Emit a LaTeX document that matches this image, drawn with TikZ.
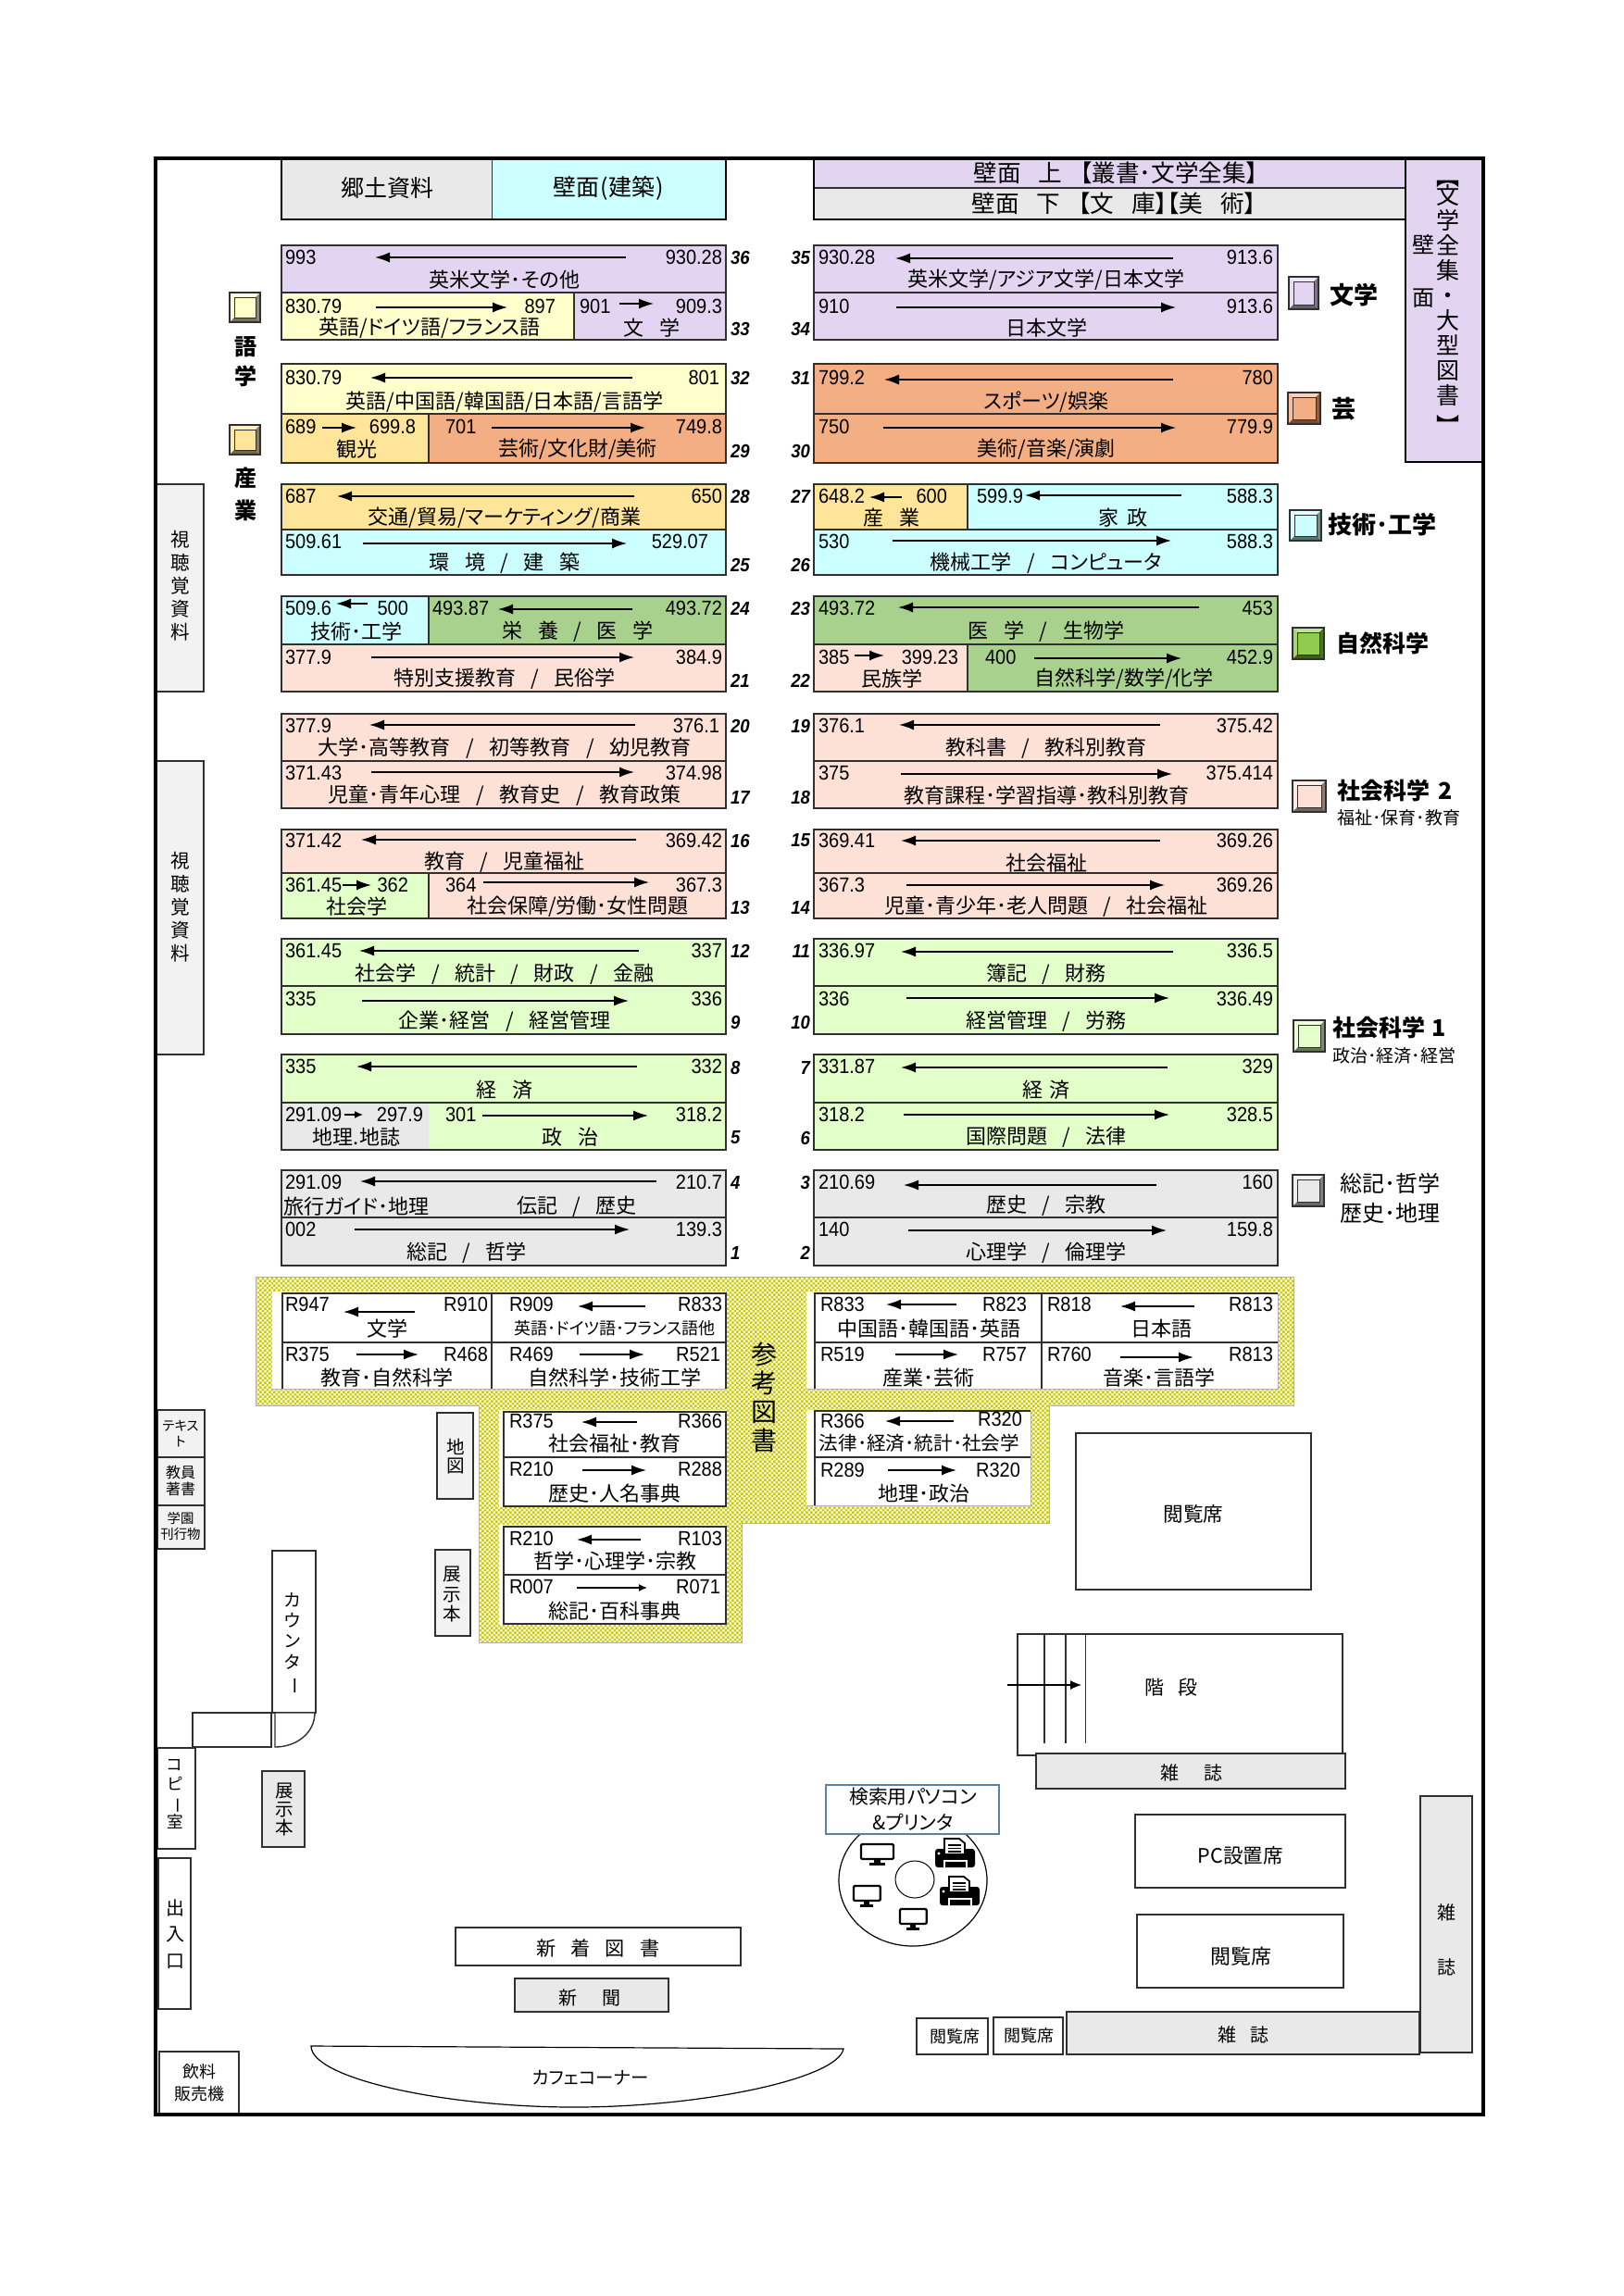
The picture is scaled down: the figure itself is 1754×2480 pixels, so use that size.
\documentclass[tikz,border=0pt]{standalone}
\usepackage{fontspec}
\usepackage{graphicx}
\usetikzlibrary{arrows.meta,patterns}
\newfontfamily\cjk[RawFeature=+palt]{Noto Sans CJK JP}
\newfontfamily\lat[FakeStretch=.91]{Liberation Sans}
\definecolor{lav}{HTML}{E3D5F2}
\definecolor{yel}{HTML}{FFFFCC}
\definecolor{sal}{HTML}{F4AE84}
\definecolor{gold}{HTML}{FFE599}
\definecolor{cya}{HTML}{CCFFFF}
\definecolor{grn}{HTML}{A9D18E}
\definecolor{lime2}{HTML}{8FCC4E}
\definecolor{pnk}{HTML}{FDE1D6}
\definecolor{lgr}{HTML}{E3FFC9}
\definecolor{gry}{HTML}{E9E9E9}
\definecolor{side}{HTML}{F2F2F2}
\definecolor{ck}{HTML}{CCCC00}
\definecolor{edge}{HTML}{303030}
\definecolor{bluee}{HTML}{5B7FA5}
\newcommand\cf[1]{\cjk\fontsize{#1}{#1}\selectfont\spaceskip=.75em\relax}
\newcounter{nd}
\pgfdeclarepatternformonly{chk}{\pgfqpoint{-.1pt}{-.1pt}}{\pgfqpoint{2.6pt}{2.6pt}}{\pgfqpoint{2.5pt}{2.5pt}}{%
 \pgfpathrectangle{\pgfpointorigin}{\pgfqpoint{1.25pt}{1.25pt}}%
 \pgfpathrectangle{\pgfqpoint{1.25pt}{1.25pt}}{\pgfqpoint{1.25pt}{1.25pt}}\pgfusepath{fill}}
\tikzset{
 txt/.style={inner sep=0pt,outer sep=0pt,font=\cf{11},align=center},
 numtxt/.style={inner sep=0pt,outer sep=0pt,font=\lat\fontsize{11}{12}\selectfont},
 rownum/.style={inner sep=0pt,outer sep=0pt,font=\lat\bfseries\itshape\fontsize{10.2}{11}\selectfont},
 shelfbox/.style={draw=edge,line width=.9pt},
 boxline/.style={draw=edge,line width=.7pt},
 arr/.style={line width=.7pt,-{Latex[length=8pt,width=5.5pt]}},
 arrs/.style={line width=.6pt,-{Latex[length=4.5pt,width=4pt]}},
}
\newcommand\TX[4][]{\stepcounter{nd}\node[txt,#1] (n\arabic{nd}) at (#2,#3) {#4};}
\newcommand\NL[3]{\stepcounter{nd}\node[numtxt,anchor=west] (n\arabic{nd}) at (#1,#2) {#3};}
\newcommand\NR[3]{\stepcounter{nd}\node[numtxt,anchor=east] (n\arabic{nd}) at (#1,#2) {#3};}
\newcommand\RL[2]{\stepcounter{nd}\node[rownum,anchor=west] (n\arabic{nd}) at (789,#1) {#2};}
\newcommand\RR[2]{\stepcounter{nd}\node[rownum,anchor=east] (n\arabic{nd}) at (875,#1) {#2};}
\newcommand\AR[3]{\draw[arr] (#1,#3) -- (#2,#3);}
\newcommand\ARS[3]{\draw[arrs] (#1,#3) -- (#2,#3);}
\newcommand\SH[5]{\draw[shelfbox,fill=#5] (#1,#2) rectangle (#3,#4);}
\newcommand\BX[5]{\draw[boxline,fill=#5] (#1,#2) rectangle (#3,#4);}
\newcommand\VT[5]{\stepcounter{nd}\node[txt,font={\cjk\fontsize{#3}{#4}\selectfont}] (n\arabic{nd}) at (#1,#2) {#5};}
\newcommand\vlong{\rotatebox[origin=c]{-90}{ー}}
\newcommand\BV[5]{% x1 y1 x2 y2 colour
 \begin{scope}
 \fill[#5] (#1,#2) rectangle (#3,#4);
 \fill[#5!55!white] (#1,#2) -- (#3,#2) -- ([shift={(-5,5)}]#3,#2) -- ([shift={(5,5)}]#1,#2) -- cycle;
 \fill[#5!80!white] (#1,#2) -- (#1,#4) -- ([shift={(5,-5)}]#1,#4) -- ([shift={(5,5)}]#1,#2) -- cycle;
 \fill[#5!55!black] (#3,#2) -- (#3,#4) -- ([shift={(-5,-5)}]#3,#4) -- ([shift={(-5,5)}]#3,#2) -- cycle;
 \fill[#5!45!black] (#1,#4) -- (#3,#4) -- ([shift={(-5,-5)}]#3,#4) -- ([shift={(5,-5)}]#1,#4) -- cycle;
 \draw[edge,line width=.7pt] (#1,#2) rectangle (#3,#4);
 \draw[edge,line width=.4pt] ([shift={(5,5)}]#1,#2) rectangle ([shift={(-5,-5)}]#3,#4);
 \end{scope}}
\newcommand\MON[3]{\begin{scope}[shift={(#1,#2)},xscale=#3]
 \draw[black,line width=1.1pt,rounded corners=.6pt] (0,0) rectangle (35,16);
 \fill[black] (14,16) rectangle (21,20);
 \fill[black] (9,20) rectangle (26,23);
 \end{scope}}
\newcommand\PRN[2]{\begin{scope}[shift={(#1,#2)}]
 \fill[black,rounded corners=1.5pt] (0,12) rectangle (43,32);
 \draw[black,fill=white,line width=.9pt] (10,1) -- (26,1) -- (32,6) -- (32,18) -- (10,18) -- cycle;
 \fill[black] (14,7) rectangle (28,8.5);
 \fill[black] (14,10.5) rectangle (28,12);
 \fill[black] (14,14) rectangle (28,15.5);
 \fill[white] (9,24) rectangle (35,32);
 \fill[black] (11,26) rectangle (33,32);
 \fill[white] (4,17) circle (1.6);
 \end{scope}}
\begin{document}
\begin{tikzpicture}[x=.5pt,y=-.5pt]
\useasboundingbox (0,0) rectangle (1754,2480);
\fill[white] (0,0) rectangle (1754,2480);

% top shelves
\fill[gry] (304,171) rectangle (531,237);
\fill[cya] (531,171) rectangle (784,237);
\draw[edge,line width=.5pt] (531,171) -- (531,237);
\draw[black,line width=1.1pt] (304,171) -- (304,237) -- (784,237) -- (784,171);
\TX[font=\cf{12.5}]{418}{203}{郷土資料}
\TX[font=\cf{12.5}]{657}{203}{壁面\kern.6pt(建築\kern.6pt)}
\fill[lav] (879,171) rectangle (1518,203);
\fill[gry] (879,203) rectangle (1518,237);
\draw[edge,line width=.8pt] (879,203) -- (1518,203);
\draw[black,line width=1.3pt] (879,171) -- (879,237) -- (1518,237);
\TX[font=\cf{12.8}]{1205}{187}{壁面 上 【叢書･文学全集】}
\TX[font=\cf{12.8}]{1203}{220}{壁面 下 【文 庫】【美 術】}
\fill[lav] (1518,171) rectangle (1602,499);
\draw[black,line width=1.3pt] (1518,171) -- (1518,499) -- (1602,499);
\VT{1564}{327}{12.5}{13.5}{\rotatebox[origin=c]{-90}{【}\\[-6pt]文\\学\\全\\集\\・\\大\\型\\図\\書\\\rotatebox[origin=c]{-90}{】}}
\VT{1537}{293}{12}{28.5}{壁\\面}

% left column
\SH{304}{265}{784}{316}{lav}
\SH{304}{316}{620}{367}{yel}
\SH{620}{316}{784}{367}{lav}
\NL{308}{278}{993}\NR{780}{278}{930.28}\AR{676}{405}{278}\TX{545}{302}{英米文学･その他}
\NL{308}{331}{830.79}\NR{600}{331}{897}\AR{406}{548}{332}\TX{464}{354}{英語/ドイツ語/フランス語}
\NL{626}{331}{901}\NR{780}{331}{909.3}\AR{669}{706}{328}\TX{704}{354}{文 学}
\RL{278}{36}\RL{355}{33}

\SH{304}{393}{784}{447}{yel}
\SH{304}{447}{463}{500}{gold}
\SH{463}{447}{784}{500}{sal}
\NL{308}{408}{830.79}\NR{777}{408}{801}\AR{683}{400}{408}\TX{545}{434}{英語/中国語/韓国語/日本語/言語学}
\NL{308}{461}{689}\NR{449}{461}{699.8}\AR{348}{385}{462}\TX{385}{485}{観光}
\NL{481}{461}{701}\NR{780}{461}{749.8}\AR{531}{697}{462}\TX{624}{485}{芸術/文化財/美術}
\RL{408}{32}\RL{487}{29}

\SH{304}{523}{784}{572}{gold}
\SH{304}{572}{784}{621}{cya}
\NL{308}{536}{687}\NR{780}{536}{650}\AR{685}{364}{536}\TX{545}{559}{交通/貿易/マーケティング/商業}
\NL{308}{585}{509.61}\NR{765}{585}{529.07}\AR{392}{677}{587}\TX{545}{608}{環 境 / 建 築}
\RL{536}{28}\RL{610}{25}

\SH{304}{644}{463}{696}{cya}
\SH{463}{644}{784}{696}{grn}
\SH{304}{696}{784}{747}{pnk}
\NL{308}{657}{509.6}\NR{441}{657}{500}\AR{397}{363}{652}\TX{385}{682}{技術･工学}
\NL{467}{657}{493.87}\NR{780}{657}{493.72}\AR{683}{538}{658}\TX{624}{682}{栄 養 / 医 学}
\NL{308}{710}{377.9}\NR{780}{710}{384.9}\AR{401}{685}{710}\TX{545}{733}{特別支援教育 / 民俗学}
\RL{657}{24}\RL{735}{21}

\SH{304}{771}{784}{822}{pnk}
\SH{304}{822}{784}{873}{pnk}
\NL{308}{784}{377.9}\NR{777}{784}{376.1}\AR{686}{399}{783}\TX{545}{808}{大学･高等教育 / 初等教育 / 幼児教育}
\NL{308}{835}{371.43}\NR{780}{835}{374.98}\AR{401}{685}{834}\TX{545}{859}{児童･青年心理 / 教育史 / 教育政策}
\RL{784}{20}\RL{861}{17}

\SH{304}{896}{784}{943}{pnk}
\SH{304}{943}{463}{992}{lgr}
\SH{463}{943}{784}{992}{pnk}
\NL{308}{908}{371.42}\NR{780}{908}{369.42}\AR{687}{390}{907}\TX{545}{931}{教育 / 児童福祉}
\NL{308}{956}{361.45}\NR{441}{956}{362}\AR{370}{401}{956}\TX{385}{979}{社会学}
\NL{481}{956}{364}\NR{780}{956}{367.3}\AR{522}{701}{953}\TX{624}{979}{社会保障/労働･女性問題}
\RL{908}{16}\RL{980}{13}

\SH{304}{1014}{784}{1065}{lgr}
\SH{304}{1065}{784}{1117}{lgr}
\NL{308}{1027}{361.45}\NR{780}{1027}{337}\AR{690}{388}{1027}\TX{545}{1052}{社会学 / 統計 / 財政 / 金融}
\NL{308}{1079}{335}\NR{780}{1079}{336}\AR{391}{679}{1081}\TX{545}{1103}{企業･経営 / 経営管理}
\RL{1027}{12}\RL{1104}{9}

\fill[lgr] (304,1139) rectangle (784,1242);
\fill[gry] (304,1191) rectangle (463,1242);
\draw[shelfbox] (304,1139) rectangle (784,1242);
\draw[shelfbox] (304,1191) -- (784,1191);
\NL{308}{1152}{335}\NR{780}{1152}{332}\AR{688}{385}{1152}\TX{545}{1177}{経 済}
\NL{308}{1204}{291.09}\NR{457}{1204}{297.9}\ARS{372}{392}{1204}\TX{385}{1228}{地理.地誌}
\NL{481}{1204}{301}\NR{780}{1204}{318.2}\AR{521}{700}{1205}\TX{616}{1228}{政 治}
\RL{1153}{8}\RL{1229}{5}

\SH{304}{1264}{784}{1315}{gry}
\SH{304}{1315}{784}{1367}{gry}
\NL{308}{1277}{291.09}\NR{780}{1277}{210.7}\AR{709}{389}{1276}\TX{385}{1303}{旅行ガイド･地理}\TX{623}{1303}{伝記 / 歴史}
\NL{308}{1328}{002}\NR{780}{1328}{139.3}\AR{383}{680}{1328}\TX{504}{1353}{総記 / 哲学}
\RL{1277}{4}\RL{1353}{1}

% right column
\SH{879}{265}{1380}{316}{lav}
\SH{879}{316}{1380}{367}{lav}
\NL{884}{278}{930.28}\NR{1375}{278}{913.6}\AR{1267}{967}{279}\TX{1130}{302}{英米文学/アジア文学/日本文学}
\NL{884}{331}{910}\NR{1375}{331}{913.6}\AR{968}{1270}{332}\TX{1130}{354}{日本文学}
\RR{278}{35}\RR{355}{34}

\SH{879}{393}{1380}{447}{sal}
\SH{879}{447}{1380}{500}{sal}
\NL{884}{408}{799.2}\NR{1375}{408}{780}\AR{1267}{955}{410}\TX{1130}{434}{スポーツ/娯楽}
\NL{884}{461}{750}\NR{1375}{461}{779.9}\AR{954}{1270}{462}\TX{1130}{485}{美術/音楽/演劇}
\RR{408}{31}\RR{487}{30}

\SH{879}{523}{1045}{572}{gold}
\SH{1045}{523}{1380}{572}{cya}
\SH{879}{572}{1380}{621}{cya}
\NL{884}{536}{648.2}\NR{1023}{536}{600}\AR{974}{939}{537}\TX{963}{559}{産 業}
\NL{1055}{536}{599.9}\NR{1375}{536}{588.3}\AR{1276}{1107}{535}\TX{1213}{559}{家\hskip.45em 政}
\NL{884}{585}{530}\NR{1375}{585}{588.3}\AR{964}{1265}{584}\TX{1130}{608}{機械工学 / コンピュータ}
\RR{536}{27}\RR{610}{26}

\SH{879}{644}{1380}{696}{grn}
\SH{879}{696}{1045}{747}{pnk}
\SH{1045}{696}{1380}{747}{grn}
\NL{884}{657}{493.72}\NR{1375}{657}{453}\AR{1295}{970}{656}\TX{1130}{682}{医 学 / 生物学}
\NL{884}{710}{385}\NR{1035}{710}{399.23}\AR{923}{955}{708}\TX{963}{733}{民族学}
\NL{1064}{710}{400}\NR{1375}{710}{452.9}\AR{1117}{1276}{711}\TX{1214}{733}{自然科学/数学/化学}
\RR{657}{23}\RR{735}{22}

\SH{879}{771}{1380}{822}{pnk}
\SH{879}{822}{1380}{873}{pnk}
\NL{884}{784}{376.1}\NR{1375}{784}{375.42}\AR{1253}{971}{783}\TX{1130}{808}{教科書 / 教科別教育}
\NL{884}{835}{375}\NR{1375}{835}{375.414}\AR{973}{1266}{836}\TX{1130}{859}{教育課程･学習指導･教科別教育}
\RR{784}{19}\RR{861}{18}

\SH{879}{896}{1380}{943}{pnk}
\SH{879}{943}{1380}{992}{pnk}
\NL{884}{908}{369.41}\NR{1375}{908}{369.26}\AR{1253}{973}{908}\TX{1130}{932}{社会福祉}
\NL{884}{956}{367.3}\NR{1375}{956}{369.26}\AR{979}{1258}{956}\TX{1130}{979}{児童･青少年･老人問題 / 社会福祉}
\RR{908}{15}\RR{980}{14}

\SH{879}{1014}{1380}{1065}{lgr}
\SH{879}{1065}{1380}{1117}{lgr}
\NL{884}{1027}{336.97}\NR{1375}{1027}{336.5}\AR{1267}{973}{1028}\TX{1130}{1052}{簿記 / 財務}
\NL{884}{1079}{336}\NR{1375}{1079}{336.49}\AR{979}{1263}{1078}\TX{1130}{1103}{経営管理 / 労務}
\RR{1027}{11}\RR{1104}{10}

\SH{879}{1139}{1380}{1191}{lgr}
\SH{879}{1191}{1380}{1242}{lgr}
\NL{884}{1152}{331.87}\NR{1375}{1152}{329}\AR{1261}{973}{1153}\TX{1130}{1177}{経\hskip.3em 済}
\NL{884}{1204}{318.2}\NR{1375}{1204}{328.5}\AR{976}{1263}{1204}\TX{1130}{1228}{国際問題 / 法律}
\RR{1153}{7}\RR{1229}{6}

\SH{879}{1264}{1380}{1315}{gry}
\SH{879}{1315}{1380}{1367}{gry}
\NL{884}{1277}{210.69}\NR{1375}{1277}{160}\AR{1249}{976}{1280}\TX{1130}{1302}{歴史 / 宗教}
\NL{884}{1328}{140}\NR{1375}{1328}{159.8}\AR{981}{1260}{1329}\TX{1130}{1353}{心理学 / 倫理学}
\RR{1277}{3}\RR{1353}{2}

% legends
\BV{248}{316}{281}{348}{yel}
\BV{248}{459}{281}{491}{gold}
\VT{265}{391}{12}{16}{\bfseries 語\\\bfseries 学}
\VT{265}{534}{12}{17.5}{\bfseries 産\\\bfseries 業}
\BV{1392}{299}{1424}{334}{lav}
\TX[font=\cf{13}\bfseries]{1462}{319}{文学}
\BV{1391}{424}{1426}{458}{sal}
\TX[font=\cf{13}\bfseries]{1451}{442}{芸}
\BV{1393}{551}{1427}{584}{cya}
\TX[font=\cf{13}\bfseries]{1493}{567}{技術･工学}
\BV{1396}{678}{1430}{712}{lime2}
\TX[font=\cf{12.5}\bfseries]{1493}{695}{自然科学}
\BV{1396}{843}{1432}{877}{pnk}
\TX[font=\cf{12.5}\bfseries,anchor=west]{1444}{854}{社会科学\hskip.4em 2}
\TX[font=\cf{9.5},anchor=west]{1444}{883}{福祉･保育･教育}
\BV{1397}{1102}{1431}{1136}{lgr}
\TX[font=\cf{12.5}\bfseries,anchor=west]{1439}{1110}{社会科学\hskip.3em 1}
\TX[font=\cf{9.5},anchor=west]{1439}{1140}{政治･経済･経営}
\BV{1396}{1269}{1430}{1303}{gry}
\TX[font=\cf{12}]{1501}{1278}{総記･哲学}
\TX[font=\cf{12}]{1501}{1310}{歴史･地理}

% side audio-visual shelves
\BX{168}{523}{220}{747}{side}
\VT{195}{633}{10.3}{12.5}{視\\聴\\覚\\資\\料}
\BX{168}{822}{220}{1139}{side}
\VT{195}{980}{10.3}{12.5}{視\\聴\\覚\\資\\料}

% reference area
\fill[white] (276,1379) -- (1397,1379) -- (1397,1518) -- (1133,1518) -- (1133,1645) -- (801,1645) -- (801,1774) -- (517,1774) -- (517,1518) -- (276,1518) -- cycle;
\fill[pattern=chk,pattern color=ck] (276,1379) -- (1397,1379) -- (1397,1518) -- (1133,1518) -- (1133,1645) -- (801,1645) -- (801,1774) -- (517,1774) -- (517,1518) -- (276,1518) -- cycle;
\draw[gray!60,line width=.5pt] (276,1379) -- (1397,1379) -- (1397,1518) -- (1133,1518) -- (1133,1645) -- (801,1645) -- (801,1774) -- (517,1774) -- (517,1518) -- (276,1518) -- cycle;
\fill[white] (294,1395) rectangle (784,1500);
\fill[white] (871,1395) rectangle (1380,1500);
\fill[white] (539,1523) rectangle (784,1628);
\fill[white] (871,1523) rectangle (1113,1627);
\fill[white] (539,1647) rectangle (784,1755);
% A
\draw[edge,line width=.9pt] (305,1500) -- (305,1397) -- (784,1397) -- (784,1500);
\draw[edge,line width=.8pt] (305,1450) -- (784,1450);
\draw[edge,line width=.8pt] (531,1397) -- (531,1500);
\draw[gray!60,line width=.5pt] (294,1500) -- (784,1500);
\NL{308}{1409}{R947}\NR{527}{1409}{R910}\AR{448}{371}{1417}\TX{418}{1435}{文学}
\NL{308}{1463}{R375}\NR{527}{1463}{R468}\AR{385}{452}{1463}\TX{418}{1488}{教育･自然科学}
\NL{550}{1409}{R909}\NR{780}{1409}{R833}\AR{697}{624}{1411}\TX[font=\cf{9}]{664}{1435}{英語･ドイツ語･フランス語他}
\NL{550}{1463}{R469}\NR{778}{1463}{R521}\AR{626}{696}{1463}\TX{664}{1488}{自然科学･技術工学}
% B
\draw[edge,line width=.9pt] (880,1500) -- (880,1397) -- (1380,1397);
\draw[edge,line width=.8pt] (880,1450) -- (1380,1450);
\draw[edge,line width=1pt] (1125,1397) -- (1125,1500);
\draw[gray!60,line width=.5pt] (871,1500) -- (1380,1500) -- (1380,1397);
\NL{886}{1409}{R833}\NR{1109}{1409}{R823}\AR{1033}{957}{1409}\TX{1003}{1435}{中国語･韓国語･英語}
\NL{886}{1463}{R519}\NR{1109}{1463}{R757}\AR{967}{1035}{1463}\TX{1003}{1488}{産業･芸術}
\NL{1131}{1409}{R818}\NR{1375}{1409}{R813}\AR{1290}{1210}{1411}\TX{1254}{1435}{日本語}
\NL{1131}{1463}{R760}\NR{1375}{1463}{R813}\AR{1210}{1289}{1466}\TX{1252}{1488}{音楽･言語学}
% C
\draw[edge,line width=.8pt] (544,1525) rectangle (784,1627);
\draw[edge,line width=.8pt] (544,1574) -- (784,1574);
\NL{550}{1535}{R375}\NR{780}{1535}{R366}\AR{688}{628}{1536}\TX{664}{1559}{社会福祉･教育}
\NL{550}{1587}{R210}\NR{780}{1587}{R288}\AR{629}{698}{1588}\TX{664}{1613}{歴史･人名事典}
% D
\draw[edge,line width=.8pt] (880,1626) -- (880,1524) -- (1113,1524);
\draw[edge,line width=.8pt] (880,1574) -- (1113,1574);
\draw[gray!60,line width=.5pt] (871,1626) -- (1113,1626) -- (1113,1524);
\NL{886}{1535}{R366}\NR{1104}{1533}{R320}\AR{1030}{956}{1535}\TX[font=\cf{10.3}]{993}{1559}{法律･経済･統計･社会学}
\NL{886}{1588}{R289}\NR{1102}{1588}{R320}\AR{959}{1033}{1588}\TX{998}{1613}{地理･政治}
% E
\draw[edge,line width=.8pt] (544,1649) rectangle (784,1754);
\draw[edge,line width=.8pt] (544,1701) -- (784,1701);
\NL{550}{1662}{R210}\NR{780}{1662}{R103}\AR{692}{623}{1663}\TX{664}{1686}{哲学･心理学･宗教}
\NL{550}{1714}{R007}\NR{778}{1714}{R071}\ARS{623}{699}{1715}\TX{664}{1740}{総記･百科事典}
\VT{825}{1509}{14}{15.5}{参\\考\\図\\書}

% small left shelves
\BX{170}{1523}{221}{1574}{side}
\BX{170}{1574}{221}{1626}{side}
\BX{170}{1626}{221}{1673}{side}
\VT{195}{1548}{7.2}{8.5}{テキス\\ト}
\VT{195}{1599}{8}{9}{教員\\著書}
\VT{195}{1648}{7.2}{8.5}{学園\\刊行物}
\BX{472}{1526}{511}{1619}{side}
\VT{492}{1573}{9.8}{10}{地\\図}
\BX{470}{1674}{508}{1767}{side}
\VT{488}{1722}{9.8}{10.8}{展\\示\\本}

% counter
\BX{294}{1675}{341}{1850}{white}
\VT{316}{1775}{9.5}{11.2}{カ\\ウ\\ン\\タ\\\vlong}
\BX{208}{1850}{293}{1887}{white}
\draw[boxline,fill=white] (297,1850) -- (340,1850) .. controls (340,1872) and (320,1887) .. (297,1887) -- cycle;
\BX{170}{1888}{211}{1997}{white}
\VT{189}{1938}{8.8}{10.3}{コ\\ピ\\\vlong\\室}
\BX{283}{1913}{329}{1995}{gry}
\VT{307}{1954}{9.8}{10}{展\\示\\本}
\BX{171}{2007}{206}{2170}{white}
\VT{189}{2089}{10}{14.3}{出\\入\\口}
\BX{172}{2216}{258}{2283}{white}
\VT{215}{2250}{9}{12}{飲料\\販売機}

% right-lower furniture
\BX{1162}{1548}{1416}{1717}{white}
\TX[font=\cf{10.8}]{1289}{1635}{閲覧席}
\BX{1099}{1765}{1450}{1896}{white}
\draw[boxline] (1128,1766) -- (1128,1883);
\draw[boxline] (1151,1766) -- (1151,1883);
\draw[boxline] (1172.5,1766) -- (1172.5,1883);
\draw[line width=.6pt,-{Latex[length=6pt,width=5pt]}] (1088,1820) -- (1168,1820);
\TX[font=\cf{10.5}]{1265}{1823}{階 段}
\BX{1119}{1894}{1453}{1932}{gry}
\TX[font=\cf{10}]{1287}{1915}{雑 \hskip.6em 誌}
\BX{1226}{1960}{1453}{2039}{white}
\TX[font=\cf{10.8}]{1340}{2004}{PC設置席}
\BX{1228}{2068}{1451}{2147}{white}
\TX[font=\cf{11}]{1340}{2113}{閲覧席}
\BX{1534}{1940}{1590}{2217}{gry}
\VT{1562}{2095}{10}{29.5}{雑\\誌}
\BX{1152}{2173}{1533}{2219}{gry}
\TX[font=\cf{10}]{1343}{2198}{雑 誌}
\BX{990}{2180}{1067}{2219}{white}
\TX[font=\cf{9}]{1031}{2200}{閲覧席}
\BX{1073}{2179}{1148}{2219}{white}
\TX[font=\cf{9}]{1111}{2199}{閲覧席}

% search PCs
\draw[black,line width=.6pt] (986,2031) ellipse (80 and 71);
\draw[black,line width=.5pt] (988,2030) ellipse (21 and 20);
\MON{930}{1992}{1}
\MON{922}{2037}{.82}
\MON{972}{2062}{.82}
\PRN{1010}{1985}
\PRN{1015}{2026}
\draw[bluee,line width=.6pt,fill=white] (892,1928) rectangle (1079,1981);
\TX[font=\cf{10.4}]{986}{1941}{検索用パソコン}
\TX[font=\cf{10.4}]{986}{1968}{\&プリンタ}

% new books, newspapers, cafe
\BX{492}{2082}{800}{2123}{white}
\TX[font=\cf{10.6}]{646}{2104}{新 着 図 書}
\BX{556}{2137}{722}{2173}{gry}
\TX[font=\cf{10}]{637}{2158}{新 \hskip.6em 聞}
\draw[black,line width=.6pt] (336,2210) -- (911,2213) .. controls (905,2245) and (760,2276) .. (620,2276) .. controls (480,2276) and (336,2245) .. (336,2210) -- cycle;
\TX[font=\cf{9.7}]{638}{2244}{カフェコーナー}

% room outline
\draw[black,line width=1.8pt] (168,171) rectangle (1602,2284);
\end{tikzpicture}
\end{document}
